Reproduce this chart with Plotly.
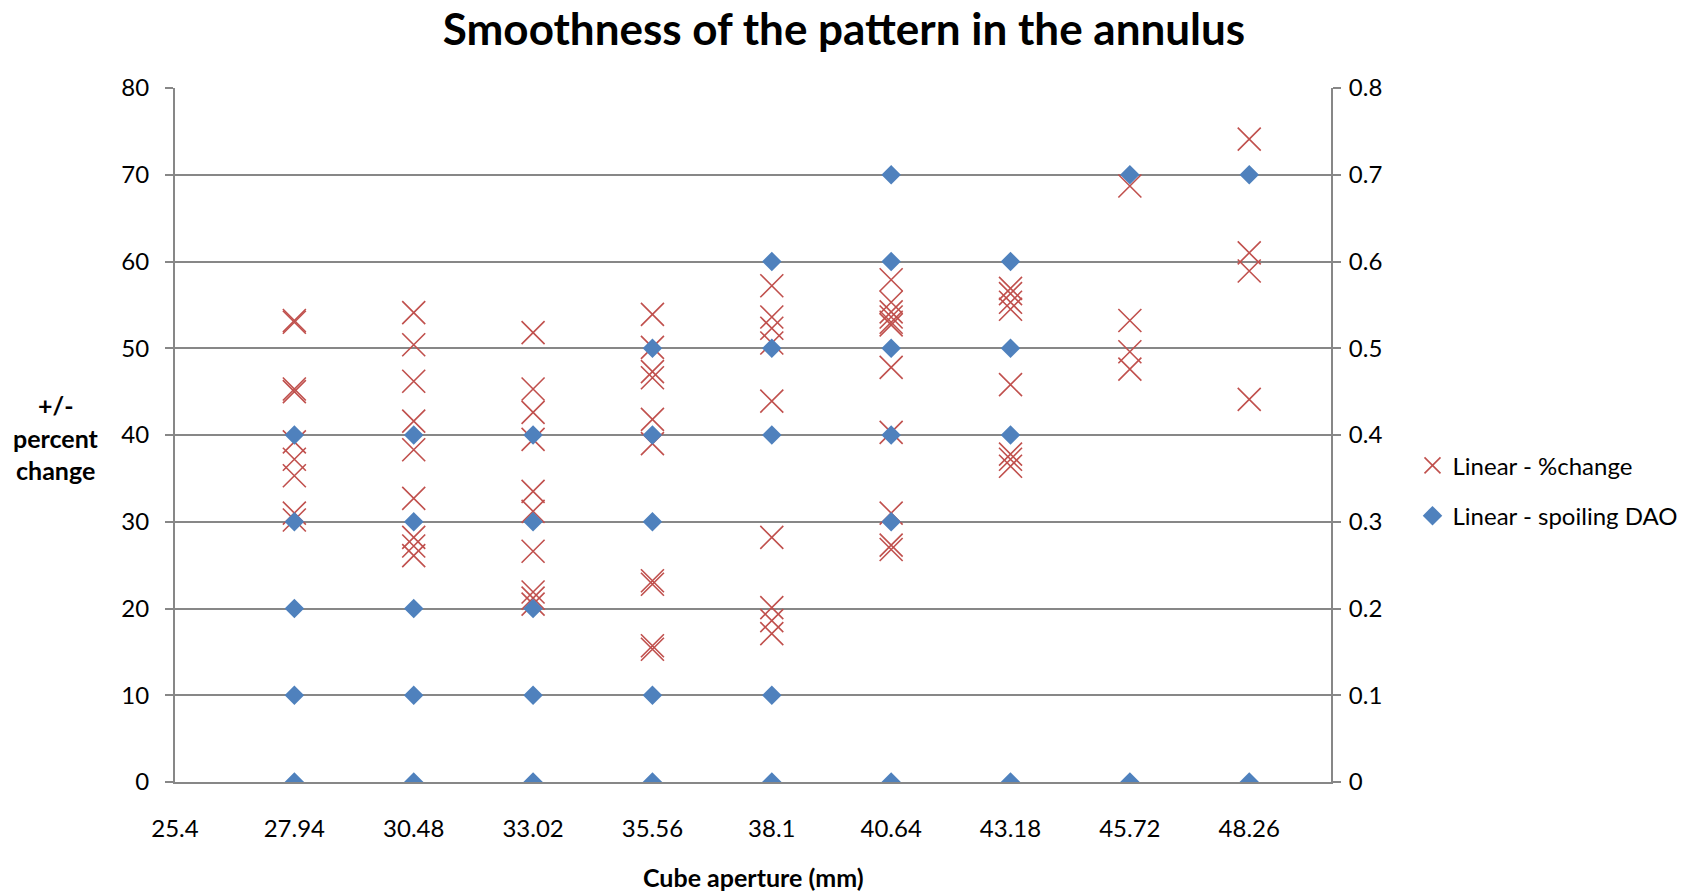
import plotly.graph_objects as go

# Cube apertures (mm) that were measured
apertures = [27.94, 30.48, 33.02, 35.56, 38.1, 40.64, 43.18, 45.72, 48.26]

# Linear - %change readings for each aperture (primary axis, percent)
pct_27_94 = [53.0, 53.2, 45.3, 45.0, 39.2, 37.2, 35.3, 31.0, 30.2]
pct_30_48 = [54.1, 50.4, 46.2, 41.6, 38.3, 32.7, 28.2, 27.2, 26.1]
pct_33_02 = [51.8, 45.3, 42.6, 39.5, 33.5, 31.2, 26.6, 21.9, 21.2, 20.5]
pct_35_56 = [53.9, 50.1, 47.3, 46.6, 41.8, 39.0, 23.2, 22.8, 15.7, 15.3]
pct_38_1 = [57.2, 53.6, 52.3, 50.6, 43.9, 28.2, 20.1, 18.6, 17.1]
pct_40_64 = [57.9, 55.3, 54.2, 53.6, 53.0, 52.7, 47.8, 40.3, 31.0, 27.3, 26.8]
pct_43_18 = [56.9, 56.3, 55.3, 54.5, 45.8, 37.8, 37.2, 36.4]
pct_45_72 = [68.7, 53.2, 49.6, 47.6]
pct_48_26 = [74.1, 61.0, 58.9, 44.1]

# Linear - spoiling DAO readings for each aperture (secondary axis)
dao_27_94 = [0, 0.1, 0.2, 0.3, 0.4]
dao_30_48 = [0, 0.1, 0.2, 0.3, 0.4]
dao_33_02 = [0, 0.1, 0.2, 0.3, 0.4]
dao_35_56 = [0, 0.1, 0.3, 0.4, 0.5]
dao_38_1 = [0, 0.1, 0.4, 0.5, 0.6]
dao_40_64 = [0, 0.3, 0.4, 0.5, 0.6, 0.7]
dao_43_18 = [0, 0.4, 0.5, 0.6]
dao_45_72 = [0, 0.7]
dao_48_26 = [0, 0.7]

# X-axis tick values and labels
x_tick_vals = [25.4, 27.94, 30.48, 33.02, 35.56, 38.1, 40.64, 43.18, 45.72, 48.26]
x_tick_labels = ["25.4", "27.94", "30.48", "33.02", "35.56", "38.1", "40.64", "43.18", "45.72", "48.26"]

pct_groups = [pct_27_94, pct_30_48, pct_33_02, pct_35_56, pct_38_1,
              pct_40_64, pct_43_18, pct_45_72, pct_48_26]
dao_groups = [dao_27_94, dao_30_48, dao_33_02, dao_35_56, dao_38_1,
              dao_40_64, dao_43_18, dao_45_72, dao_48_26]

pct_x, pct_y = [], []
for a, vals in zip(apertures, pct_groups):
    pct_x += [a] * len(vals)
    pct_y += vals

dao_x, dao_y = [], []
for a, vals in zip(apertures, dao_groups):
    dao_x += [a] * len(vals)
    dao_y += vals

RED = "#C0504D"
BLUE = "#4F81BD"
GRID = "#878787"
FONT = "Lato"

fig = go.Figure()
fig.add_trace(go.Scatter(
    x=pct_x, y=pct_y, mode="markers", name="Linear - %change", legendgroup="pct",
    marker=dict(symbol="x-thin", size=23, line=dict(color=RED, width=1.6), color=RED),
    yaxis="y",
))
fig.add_trace(go.Scatter(
    x=dao_x, y=dao_y, mode="markers", name="Linear - spoiling DAO", legendgroup="dao",
    marker=dict(symbol="diamond", size=15, color=BLUE, line=dict(width=0)),
    yaxis="y2",
))

fig.update_layout(
    width=1688, height=893,
    margin=dict(l=175, r=357, t=88, b=111, autoexpand=False),
    paper_bgcolor="white", plot_bgcolor="white",
    font=dict(family=FONT, size=24, color="black"),
    title=dict(text="<b>Smoothness of the pattern in the annulus</b>",
               x=0.5, xanchor="center", y=0.967, yanchor="middle",
               font=dict(family=FONT, size=44, color="black")),
    xaxis=dict(
        range=[25.4, 50.0], tickmode="array", tickvals=x_tick_vals, ticktext=x_tick_labels,
        showgrid=False, zeroline=False, showline=True, linecolor=GRID, linewidth=1.5,
        ticks="", ticklabelstandoff=24, tickfont=dict(size=24),
    ),
    yaxis=dict(
        range=[0, 80], dtick=10, showgrid=True, gridcolor=GRID, gridwidth=1.5,
        zeroline=False, showline=True, linecolor=GRID, linewidth=2,
        ticks="outside", ticklen=8, tickcolor=GRID, tickwidth=1.5,
        ticklabelstandoff=11, tickfont=dict(size=24),
    ),
    yaxis2=dict(
        range=[0, 0.8], dtick=0.1, overlaying="y", side="right", showgrid=False,
        zeroline=False, showline=True, linecolor=GRID, linewidth=2,
        ticks="outside", ticklen=8, tickcolor=GRID, tickwidth=1.5,
        ticklabelstandoff=3, tickfont=dict(size=24),
    ),
    legend=dict(x=1.0705, y=0.488, xanchor="left", yanchor="top",
                xref="paper", yref="paper",
                font=dict(size=24), itemsizing="trace", tracegroupgap=16,
                bgcolor="rgba(0,0,0,0)"),
    showlegend=True,
)

# Axis titles
fig.add_annotation(text="<b>Cube aperture (mm)</b>", xref="paper", yref="paper",
                   x=0.5, y=-0.137, xanchor="center", yanchor="middle",
                   showarrow=False, font=dict(size=25))
for i, line in enumerate(["+/-", "percent", "change"]):
    fig.add_annotation(text=f"<b>{line}</b>", xref="paper", yref="paper",
                       x=-0.103, y=0.543 - i * 0.047, xanchor="center", yanchor="middle",
                       showarrow=False, font=dict(size=25))

fig.write_html("out.html")
